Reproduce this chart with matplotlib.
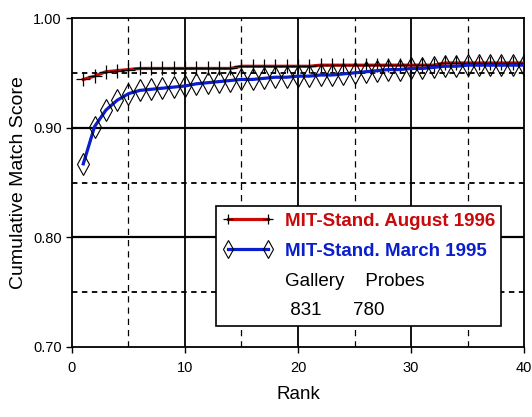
import matplotlib
matplotlib.use("Agg")
import matplotlib.pyplot as plt
from matplotlib.lines import Line2D
import numpy as np

plt.rcParams['font.family'] = ['Liberation Sans Narrow', 'Liberation Sans', 'DejaVu Sans']

# データ
rank = list(range(1, 41))
aug1996 = [0.944, 0.947, 0.951, 0.952, 0.953] + [0.954] * 9 + [0.956] * 7 + [0.957] * 11 + [0.959] * 8
mar1995 = [0.867, 0.901, 0.916, 0.925, 0.931, 0.934, 0.935, 0.936, 0.937, 0.938,
           0.940, 0.941, 0.942, 0.943, 0.944, 0.944, 0.945, 0.946, 0.946, 0.947,
           0.947, 0.948, 0.948, 0.949, 0.950, 0.951, 0.952, 0.953, 0.953, 0.954,
           0.954, 0.955, 0.956, 0.956, 0.957, 0.957, 0.957, 0.957, 0.957, 0.957]
xticks = [0, 10, 20, 30, 40]
yticks = [0.70, 0.80, 0.90, 1.00]
gallery, probes = 831, 780

fig = plt.figure(figsize=(5.32, 4.17), dpi=100)
ax = fig.add_axes([0.1353, 0.1679, 0.8497, 0.7889])

# グリッド
for x in [10, 20, 30]:
    ax.axvline(x, color='black', lw=1.3, zorder=1)
for x in [5, 15, 25, 35]:
    ax.axvline(x, color='black', lw=0.9, ls=(0, (5, 4)), zorder=1)
for y in [0.80, 0.90]:
    ax.axhline(y, color='black', lw=1.6, zorder=1)
for y in [0.75, 0.85, 0.95]:
    ax.axhline(y, color='black', lw=1.3, ls=(0, (3, 2.5)), zorder=1)

ax.plot(rank, aug1996, color='#c80a0a', lw=2.3, marker='+', ms=9.5, mec='black', mew=0.9,
        label='MIT-Stand. August 1996', zorder=3)
ax.plot(rank, mar1995, color='#0a1ecc', lw=2.3, marker='d', ms=11, mfc='none', mec='black',
        mew=0.8, label='MIT-Stand. March 1995', zorder=3)

ax.set_xlim(0, 40)
ax.set_ylim(0.70, 1.00)
ax.set_xticks(xticks)
ax.set_yticks(yticks)
ax.set_yticklabels(['%.2f' % v for v in yticks])
ax.tick_params(labelsize=10.5, length=4, width=1)
ax.tick_params(axis='x', pad=6)
for s in ax.spines.values():
    s.set_linewidth(1.3)
ax.set_xlabel('Rank', fontsize=13.5, labelpad=8)
ax.set_ylabel('Cumulative Match Score', fontsize=14)

h, l = ax.get_legend_handles_labels()
blank = Line2D([], [], color='none')
h += [blank, blank]
l += ['Gallery    Probes', ' 831      780']
leg = ax.legend(h, l, loc='upper left', bbox_to_anchor=(0.319, 0.428), frameon=True,
                fancybox=False, edgecolor='black', framealpha=1, fontsize=13.5,
                numpoints=2, markerscale=0.8, handlelength=2.7, labelspacing=0.68,
                borderpad=0.35, handletextpad=0.6, borderaxespad=0)
leg.get_frame().set_linewidth(1.2)
texts = leg.get_texts()
texts[0].set_color('#c80a0a'); texts[0].set_fontweight('bold')
texts[1].set_color('#0a1ecc'); texts[1].set_fontweight('bold')

fig.savefig('out.png', dpi=100)
